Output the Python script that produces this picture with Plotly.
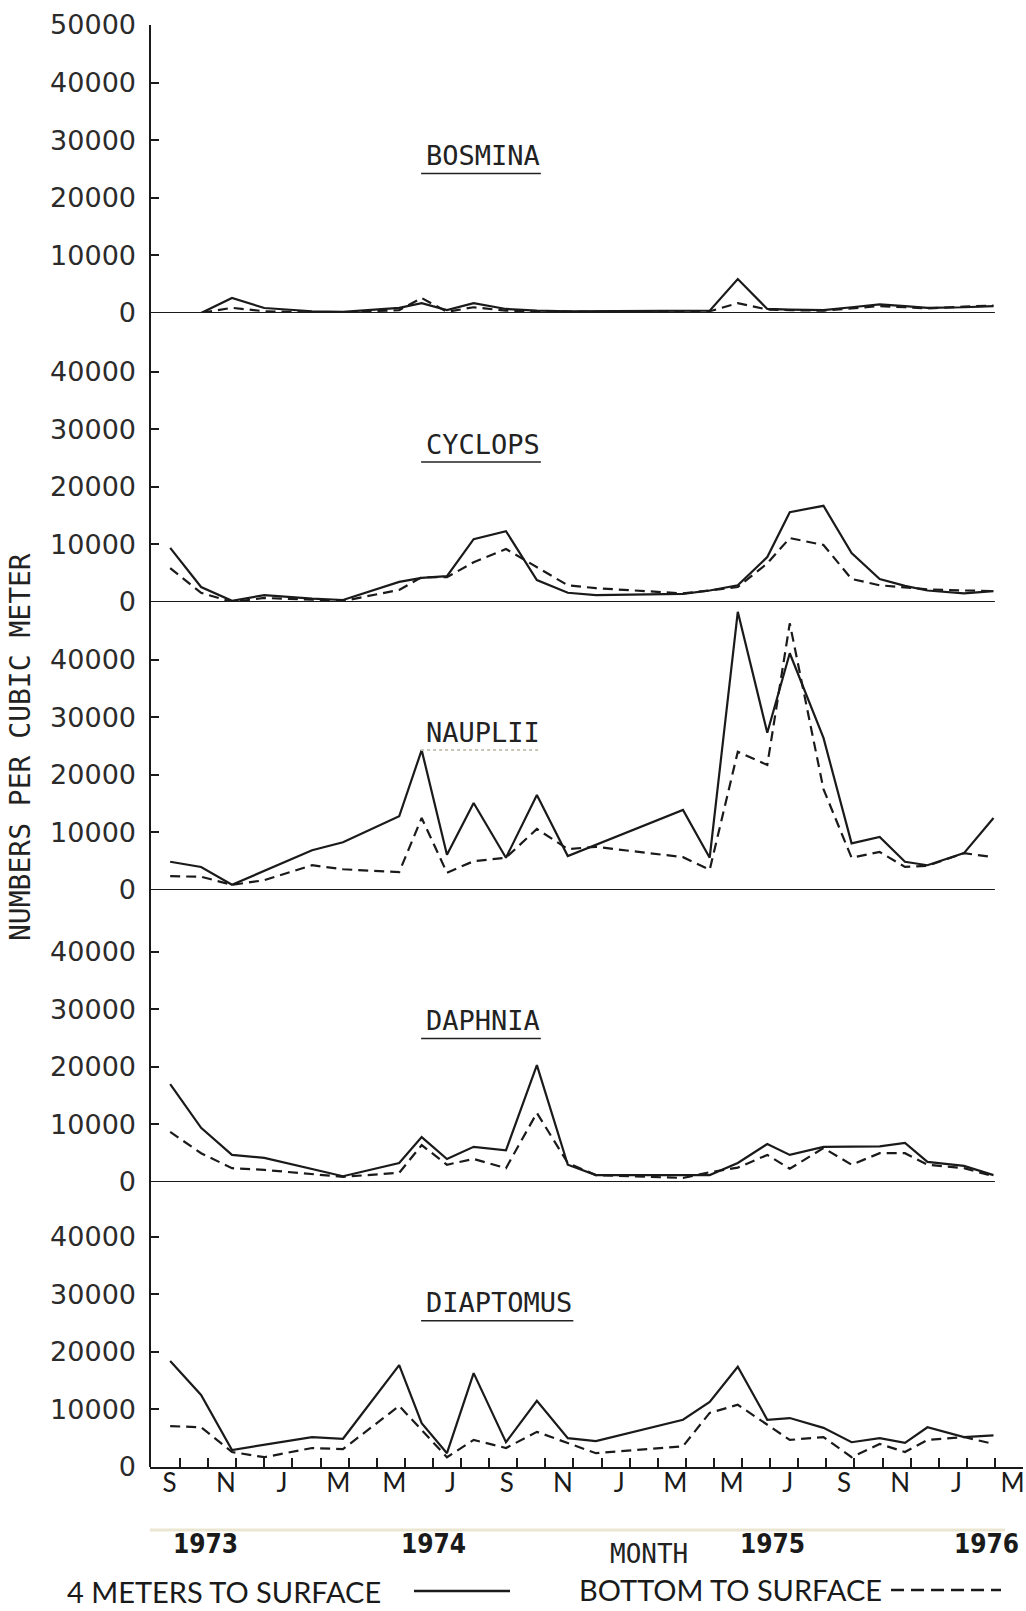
import plotly.graph_objects as go

# Sampling dates, in months after the September 1973 tick mark
sample_month = [-0.35, 0.75, 1.85, 3.0, 4.7, 5.8, 7.8, 8.6, 9.5, 10.45, 11.6, 12.7, 13.8,
                14.8, 17.9, 18.85, 19.85, 20.9, 21.7, 22.9, 23.9, 24.9, 25.8, 26.6, 27.9, 28.95]

# Numbers per cubic meter: "4 meters to surface" (solid) and "bottom to surface" (dashed) hauls
bosmina_4m = [0, 0, 2600, 870, 300, 200, 900, 1700, 500, 1700, 700, 400, 300,
              300, 300, 400, 5900, 700, 600, 500, 1000, 1500, 1200, 900, 1000, 1200]
bosmina_bottom = [0, 0, 900, 300, 100, 100, 500, 2600, 200, 1000, 400, 300, 200,
                  200, 200, 300, 1700, 600, 500, 400, 800, 1200, 1000, 800, 1100, 1300]

cyclops_4m = [9400, 2600, 200, 1200, 600, 350, 3500, 4200, 4500, 10900, 12300, 3800, 1600,
              1200, 1400, 2000, 2900, 7800, 15600, 16700, 8500, 4000, 2800, 2000, 1500, 1900]
cyclops_bottom = [5900, 1600, 0, 700, 400, 170, 2100, 4300, 4300, 6900, 9200, 6100, 2900,
                  2400, 1500, 2000, 2600, 6700, 11100, 9900, 4000, 2900, 2500, 2200, 2000, 1900]

nauplii_4m = [4900, 4000, 900, None, 6900, 8300, 12800, 24300, 6100, 15100, 5600, 16500, 5900,
              None, 13900, 5600, 48300, 27300, 41100, 26400, 8100, 9200, 4900, 4300, 6400, 12500]
nauplii_bottom = [2400, 2300, 900, 1700, 4300, 3600, 3100, 12500, 3000, 5000, 5600, 10600, 7100,
                  7500, 5700, 3500, 24000, 21700, 46300, 17500, 5600, 6600, 4000, 4200, 6400, 5700]

daphnia_4m = [17000, 9400, 4700, 4200, None, 1000, 3300, 7800, 4000, 6100, 5500, 20300, 3000,
              1200, 1200, 1200, 3300, 6600, 4700, 6100, None, 6200, 6800, 3500, 2800, 1200]
daphnia_bottom = [8700, 5000, 2400, 2100, None, 900, 1600, 6400, 3000, 4000, 2400, 12000, 3300,
                  1200, 700, 1700, 2500, 4700, 2300, 5900, 3000, 5000, 5000, 3000, 2400, 1000]

diaptomus_4m = [18400, 12500, 2950, None, 5200, 4900, 17700, 7600, 2400, 16300, 4300, 11500, 5000,
                4500, 8200, 11300, 17400, 8200, 8500, 6800, 4300, 5000, 4200, 6900, 5200, 5500]
diaptomus_bottom = [7100, 6900, 2600, 1700, 3300, 3100, 10600, None, 1700, 4700, 3300, 6100, 4200,
                    2400, 3600, 9400, 10800, 7300, 4700, 5200, 1700, 4000, 2600, 4700, 5200, 4000]

panel_names = ["BOSMINA", "CYCLOPS", "NAUPLII", "DAPHNIA", "DIAPTOMUS"]
series_4m = [bosmina_4m, cyclops_4m, nauplii_4m, daphnia_4m, diaptomus_4m]
series_bottom = [bosmina_bottom, cyclops_bottom, nauplii_bottom, daphnia_bottom, diaptomus_bottom]

month_labels = ["S", "N", "J", "M", "M", "J", "S", "N", "J", "M", "M", "J", "S", "N", "J", "M"]
year_labels = ["1973", "1974", "1975", "1976"]
legend_labels = ["4 METERS TO SURFACE", "BOTTOM TO SURFACE"]
y_title = "NUMBERS PER CUBIC METER"
x_title = "MONTH"

# ---- page geometry (pixels) ----
W, H = 1026, 1611
INK = "#1a1a1a"


def py(p):
    return 1 - p / H


def px(p):
    return p / W


panel_zero_px = [313, 602, 890, 1182, 1467]
panel_span_px = 288
title_height = [27300, 27400, 27400, 28000, 28500]   # title centre, in axis units
x_left_px, x_right_px = 150, 1023
x_range = [-1.068, 30.0]
px_per_month = (x_right_px - x_left_px) / (x_range[1] - x_range[0])

MONO = "DejaVu Sans Mono"
NUM = "DejaVu Sans"
GEO = "Lato"
COND = "DejaVu Sans Condensed, Liberation Sans Narrow, DejaVu Sans"

fig = go.Figure()

layout = dict(
    width=W, height=H,
    margin=dict(l=0, r=0, t=0, b=0, pad=0, autoexpand=False),
    paper_bgcolor="white", plot_bgcolor="rgba(0,0,0,0)",
    showlegend=False,
)

layout["xaxis"] = dict(
    domain=[px(x_left_px), px(x_right_px)],
    range=x_range,
    anchor="y5",
    automargin=False,
    showgrid=False, zeroline=False,
    showline=True, linewidth=2, linecolor=INK,
    tickmode="array",
    tickvals=[2 * i - 0.37 for i in range(len(month_labels))],
    ticktext=month_labels,
    ticks="",
    ticklabelstandoff=-8,
    tickfont=dict(family=GEO, size=26, color=INK),
    minor=dict(tickmode="array", tickvals=list(range(30)), ticks="inside",
               ticklen=9, tickwidth=2, tickcolor=INK, showgrid=False),
)

shapes = []
annotations = []

for i, name in enumerate(panel_names):
    n = i + 1
    yname = "yaxis" if n == 1 else f"yaxis{n}"
    yref = "y" if n == 1 else f"y{n}"
    zero = panel_zero_px[i]
    top_tick = 50000 if i == 0 else 40000
    layout[yname] = dict(
        domain=[py(zero), py(zero - panel_span_px)],
        range=[0, 50000],
        anchor="x",
        automargin=False,
        showgrid=False, zeroline=False, showline=False,
        tickmode="array",
        tickvals=list(range(0, top_tick + 1, 10000)),
        ticktext=[str(v) for v in range(0, top_tick + 1, 10000)],
        ticks="inside", ticklen=9, tickwidth=2, tickcolor=INK,
        ticklabelstandoff=13,
        tickfont=dict(family=NUM, size=27, color="#2b2b2b"),
    )

    fig.add_trace(go.Scatter(
        x=sample_month, y=series_4m[i], xaxis="x", yaxis=yref,
        mode="lines", connectgaps=True, name=legend_labels[0],
        line=dict(color=INK, width=2.2),
    ))
    fig.add_trace(go.Scatter(
        x=sample_month, y=series_bottom[i], xaxis="x", yaxis=yref,
        mode="lines", connectgaps=True, name=legend_labels[1],
        line=dict(color=INK, width=2.2, dash="10px,6px"),
    ))

    # zero baseline of the upper panels
    if i < len(panel_names) - 1:
        shapes.append(dict(type="line", xref="x", yref=yref,
                           x0=x_range[0], x1=29.0, y0=0, y1=0,
                           line=dict(color=INK, width=2)))

    # underlined panel title
    title_x = 8.68
    ty = title_height[i]
    annotations.append(dict(text=name, xref="x", yref=yref, x=title_x, y=ty,
                            xanchor="left", yanchor="middle", showarrow=False,
                            font=dict(family=MONO, size=27, color="#222")))
    ul_len = (len(name) * 16.25 + 6) / px_per_month
    faint = name == "NAUPLII"
    shapes.append(dict(type="line", xref="x", yref=yref,
                       x0=title_x - 0.1, x1=title_x - 0.1 + ul_len, y0=ty - 3100, y1=ty - 3100,
                       line=dict(color="#c9c6b8" if faint else "#222",
                                 width=2 if faint else 1.5,
                                 dash="dot" if faint else "solid")))

# continuous vertical axis through all panels
shapes.append(dict(type="line", xref="paper", yref="paper",
                   x0=px(x_left_px), x1=px(x_left_px),
                   y0=py(panel_zero_px[-1]), y1=py(panel_zero_px[0] - panel_span_px),
                   line=dict(color=INK, width=2)))

# faint rule under the month letters
shapes.append(dict(type="line", xref="paper", yref="paper",
                   x0=px(150), x1=px(1005), y0=py(1530), y1=py(1530),
                   line=dict(color="#ebe6d2", width=3)))

# y-axis title
annotations.append(dict(text=y_title, xref="paper", yref="paper",
                        x=px(20), y=py(747), textangle=-90, showarrow=False,
                        xanchor="center", yanchor="middle",
                        font=dict(family=MONO, size=28, color="#222")))

# years and axis title
for label, xpix in zip(year_labels, [205, 433, 772, 986]):
    annotations.append(dict(text=f"<b>{label}</b>", xref="paper", yref="paper",
                            x=px(xpix), y=py(1544), showarrow=False,
                            xanchor="center", yanchor="middle",
                            font=dict(family=COND, size=26, color=INK)))
annotations.append(dict(text=x_title, xref="paper", yref="paper",
                        x=px(649), y=py(1554), showarrow=False,
                        xanchor="center", yanchor="middle",
                        font=dict(family=MONO, size=26, color="#222")))

# legend key
annotations.append(dict(text=legend_labels[0], xref="paper", yref="paper",
                        x=px(65), y=py(1591), showarrow=False,
                        xanchor="left", yanchor="middle",
                        font=dict(family=GEO, size=29, color=INK)))
shapes.append(dict(type="line", xref="paper", yref="paper",
                   x0=px(414), x1=px(510), y0=py(1591), y1=py(1591),
                   line=dict(color=INK, width=2.5)))
annotations.append(dict(text=legend_labels[1], xref="paper", yref="paper",
                        x=px(577), y=py(1589), showarrow=False,
                        xanchor="left", yanchor="middle",
                        font=dict(family=GEO, size=29, color=INK)))
shapes.append(dict(type="line", xref="paper", yref="paper",
                   x0=px(891), x1=px(1001), y0=py(1590), y1=py(1590),
                   line=dict(color=INK, width=2.5, dash="13px,7px")))

layout["shapes"] = shapes
layout["annotations"] = annotations
fig.update_layout(**layout)

fig.write_html("out.html")
